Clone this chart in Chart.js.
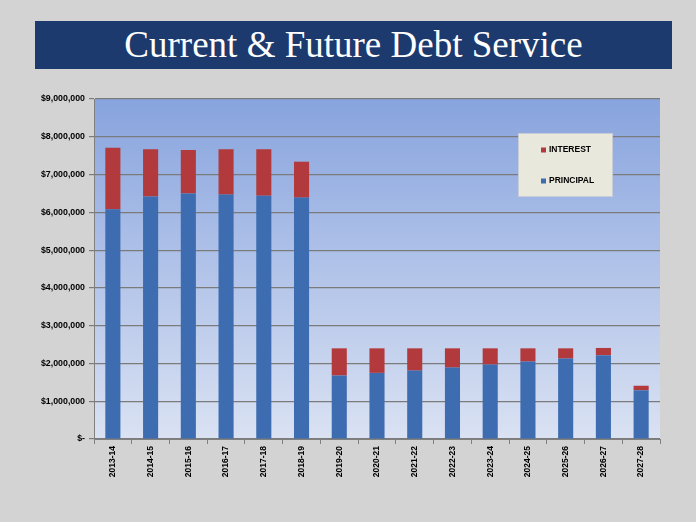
<!DOCTYPE html>
<html>
<head>
<meta charset="utf-8">
<script src="https://cdn.jsdelivr.net/npm/chart.js@4/dist/chart.umd.min.js"></script>
<style>
  html, body { margin: 0; padding: 0; background: #d3d3d3; }
  #wrap { position: relative; width: 696px; height: 522px; overflow: hidden; }
  #banner {
    position: absolute; left: 35px; top: 21px; width: 637px; height: 48px;
    background: #1c3a6e; color: #fff; text-align: center;
    font-family: "Liberation Serif", serif; font-size: 37px; line-height: 48px;
  }
  #debtChart { position: absolute; left: 0; top: 0; }
</style>
</head>
<body>
<div id="wrap">
  <div id="banner">Current &amp; Future Debt Service</div>
  <canvas id="debtChart" width="696" height="522"></canvas>
</div>
<script>
const years = ['2013-14', '2014-15', '2015-16', '2016-17', '2017-18', '2018-19', '2019-20',
  '2020-21', '2021-22', '2022-23', '2023-24', '2024-25', '2025-26', '2026-27', '2027-28'];
const principal = [6080000, 6420000, 6500000, 6470000, 6440000, 6390000, 1680000,
  1750000, 1810000, 1890000, 1970000, 2050000, 2130000, 2220000, 1290000];
const interest = [1630000, 1250000, 1150000, 1200000, 1230000, 950000, 720000,
  650000, 590000, 510000, 430000, 350000, 270000, 190000, 120000];
const yTicks = [0, 1000000, 2000000, 3000000, 4000000, 5000000, 6000000, 7000000, 8000000, 9000000];

const blue = '#3e6cb0';
const red = '#b23a3c';

// gradient fill behind the bars
const plotBg = {
  id: 'plotBg',
  beforeDraw(chart) {
    const { ctx, chartArea: a } = chart;
    const g = ctx.createLinearGradient(0, a.top, 0, a.bottom);
    g.addColorStop(0, '#88a4de');
    g.addColorStop(1, '#dae2f3');
    ctx.save();
    ctx.fillStyle = g;
    ctx.fillRect(a.left, a.top, a.right - a.left, a.bottom - a.top);
    ctx.restore();
  }
};

// boxed legend inside the plot, interest listed first
const boxLegend = {
  id: 'boxLegend',
  afterDraw(chart) {
    const ctx = chart.ctx;
    const x = 518, y = 133, w = 95, h = 64;
    ctx.save();
    ctx.fillStyle = '#e9e8dc';
    ctx.fillRect(x, y, w, h);
    ctx.strokeStyle = '#c9ccd6';
    ctx.strokeRect(x + 0.5, y + 0.5, w - 1, h - 1);
    const items = chart.data.datasets.slice().reverse();
    ctx.font = 'bold 8.5px "Liberation Sans", Arial, sans-serif';
    ctx.textBaseline = 'middle';
    items.forEach((ds, i) => {
      const cy = y + 17 + i * 31;
      ctx.fillStyle = ds.backgroundColor;
      ctx.fillRect(x + 23, cy - 2.5, 5, 5);
      ctx.fillStyle = '#000';
      ctx.fillText(ds.label, x + 31, cy);
    });
    ctx.restore();
  }
};

function money(v) {
  if (v === 0) return '$-';
  return '$' + v.toLocaleString('en-US');
}

new Chart(document.getElementById('debtChart'), {
  type: 'bar',
  data: {
    labels: years,
    datasets: [
      { label: 'PRINCIPAL', data: principal, backgroundColor: blue },
      { label: 'INTEREST', data: interest, backgroundColor: red }
    ]
  },
  options: {
    responsive: false,
    animation: false,
    layout: { padding: { left: 0, right: 36, top: 99, bottom: 0 } },
    datasets: { bar: { categoryPercentage: 0.4, barPercentage: 1 } },
    plugins: { legend: { display: false }, tooltip: { enabled: false } },
    scales: {
      x: {
        stacked: true,
        afterFit(scale) { scale.height = 83; },
        grid: { drawOnChartArea: false, drawTicks: true, tickLength: 5, color: '#808080' },
        border: { color: '#808080' },
        ticks: {
          minRotation: 90, maxRotation: 90, padding: 2, color: '#000',
          font: { family: '"Liberation Sans", Arial, sans-serif', size: 8.5, weight: 'bold' }
        }
      },
      y: {
        stacked: true,
        min: 0, max: 9000000,
        afterFit(scale) { scale.width = 94; },
        afterBuildTicks(scale) { scale.ticks = yTicks.map(v => ({ value: v })); },
        grid: { color: '#7b7b7b', lineWidth: 1.2, tickLength: 5 },
        border: { color: '#808080' },
        ticks: {
          padding: 4, color: '#000',
          font: { family: '"Liberation Sans", Arial, sans-serif', size: 8.8, weight: 'bold' },
          callback: v => money(v)
        }
      }
    }
  },
  plugins: [plotBg, boxLegend]
});
</script>
</body>
</html>
